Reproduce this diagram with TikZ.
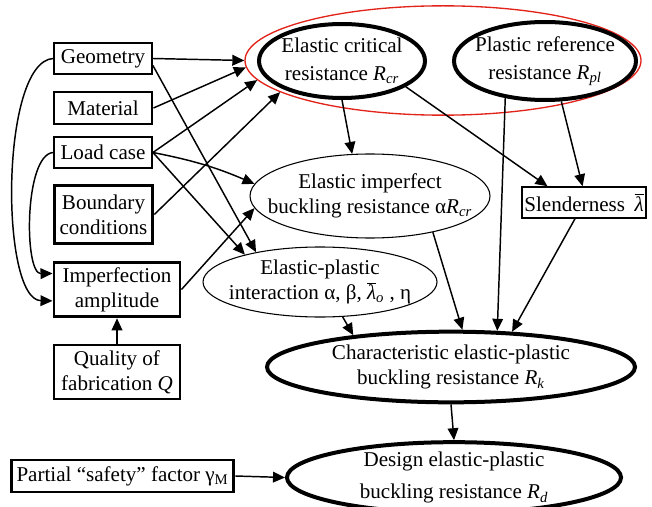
\documentclass[tikz,border=0pt]{standalone}
\usepackage{fontspec}
\setmainfont{Liberation Serif}
\usepackage{tikz}
\usetikzlibrary{shapes.geometric,arrows.meta}
\definecolor{GroupRed}{HTML}{E2231A}
\newcommand{\resist}[1]{\textit{R}\textsubscript{\textit{#1}}}
\newcommand{\slend}{\ensuremath{\overline{\mbox{\textit{λ}}}}}

\begin{document}
\begin{tikzpicture}[x=0.75pt,y=-0.75pt,
    font=\fontsize{15.8}{19}\selectfont,
    box/.style={draw,line width=1.4pt,align=center,inner sep=2pt},
    heavybox/.style={box,line width=2.2pt},
    thinoval/.style={draw,ellipse,line width=0.8pt,align=center,inner xsep=-25pt,inner ysep=-10pt},
    heavyoval/.style={thinoval,line width=3pt},
    arr/.style={-{Triangle[length=9pt,width=8pt]},line width=1.1pt}]
      \useasboundingbox (0,0) rectangle (652,506);
      \clip (0,0) rectangle (652,506);
      % resistances
      \node[draw=GroupRed,ellipse,line width=1pt,minimum width=297pt,minimum height=82pt,inner sep=0pt] (grp) at (443,60.5) {};
      \node[heavyoval,minimum width=124.5pt,minimum height=55.5pt] (ecr) at (342,61) {Elastic critical\\[2pt]resistance \resist{cr}};
      \node[heavyoval,minimum width=136.5pt,minimum height=58.5pt] (pl) at (545,61) {Plastic reference\\[2pt]resistance \resist{pl}};
      \node[thinoval,minimum width=180pt,minimum height=63pt] (eib) at (370,196) {Elastic imperfect\\buckling resistance α\resist{cr}};
      \node[thinoval,minimum width=175.5pt,minimum height=52.5pt] (int) at (320,282) {Elastic-plastic\\interaction α, β, \slend\textsubscript{\textit{o}} , η};
      \node[heavyoval,minimum width=276pt,minimum height=53pt] (chr) at (451,367) {Characteristic elastic-plastic\\buckling resistance \resist{k}};
      \node[heavyoval,minimum width=250.5pt,minimum height=53pt] (des) at (454,477.5) {Design elastic-plastic\\[5pt]buckling resistance \resist{d}};
      \node[box,minimum width=85.5pt,minimum height=23pt] (sl) at (584,202.5) {Slenderness\hspace{0.45em}\slend};
      % input boxes
      \node[box,minimum width=73.5pt,minimum height=23pt] (geo) at (103,58.5) {Geometry};
      \node[heavybox,minimum width=73.5pt,minimum height=24pt] (mat) at (103,108) {Material};
      \node[box,minimum width=73.5pt,minimum height=23pt] (lc) at (103,152.5) {Load case};
      \node[heavybox,minimum width=74pt,minimum height=43pt] (bc) at (103.5,214.5) {Boundary\\conditions};
      \node[heavybox,minimum width=94.5pt,minimum height=41pt] (imp) at (117,289.5) {Imperfection\\amplitude};
      \node[box,minimum width=94pt,minimum height=40.5pt] (q) at (117,372) {Quality of\\fabrication \textit{Q}};
      \node[heavybox,minimum width=167pt,minimum height=24pt] (part) at (122.5,476) {Partial “safety” factor γ\textsubscript{M}};
      % connectors
      \draw[arr] (geo.east) -- (grp.180);
      \draw[arr] (mat.east) -- (grp.182.8);
      \draw[arr] (lc.east) -- (grp.186.8);
      \draw[arr] (bc.east) -- (grp.191);
      \draw[arr] (geo.352) -- (int.155);
      \draw[arr] (lc.east) to[bend left=6] (eib.174);
      \draw[arr] (lc.east) -- (int.160);
      \draw[arr] (imp.east) -- (eib.186);
      \draw[arr] (geo.west) .. controls (0,62) and (0,300) .. (imp.190);
      \draw[arr] (lc.west) .. controls (24,155) and (24,274) .. (imp.166);
      \draw[arr] (q.north) -- (imp.south);
      \draw[arr] (ecr.south) -- (eib.113);
      \draw[arr] (ecr.338) -- (sl.156);
      \draw[arr] (pl.292) -- (sl.95);
      \draw[arr] (pl.223) -- (chr.38);
      \draw[arr] (eib.330) -- (chr.73);
      \draw[arr] (sl.241) -- (chr.30);
      \draw[arr] (int.303) -- (chr.162);
      \draw[arr] (chr.south) -- (des.north);
      \draw[arr] (part.east) -- (des.west);
    \end{tikzpicture}
\end{document}
